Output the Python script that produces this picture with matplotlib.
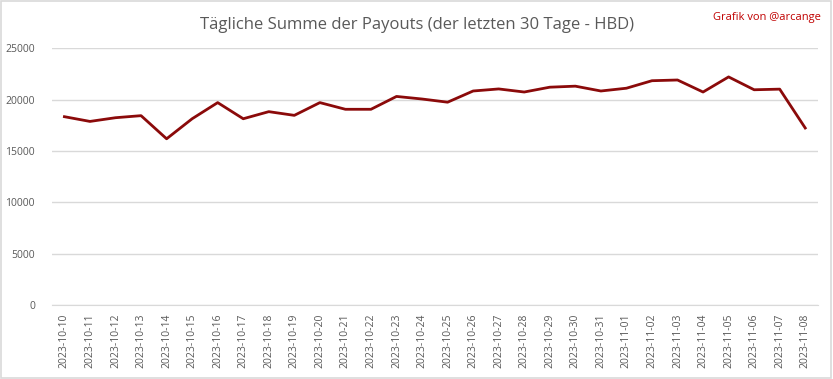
import matplotlib.pyplot as plt
from matplotlib.patches import Rectangle

# Tagesdaten
dates = ['2023-10-10', '2023-10-11', '2023-10-12', '2023-10-13', '2023-10-14',
         '2023-10-15', '2023-10-16', '2023-10-17', '2023-10-18', '2023-10-19',
         '2023-10-20', '2023-10-21', '2023-10-22', '2023-10-23', '2023-10-24',
         '2023-10-25', '2023-10-26', '2023-10-27', '2023-10-28', '2023-10-29',
         '2023-10-30', '2023-10-31', '2023-11-01', '2023-11-02', '2023-11-03',
         '2023-11-04', '2023-11-05', '2023-11-06', '2023-11-07', '2023-11-08']
payouts = [18330, 17870, 18230, 18430, 16180,
           18130, 19700, 18130, 18820, 18460,
           19700, 19050, 19050, 20300, 20050,
           19740, 20830, 21030, 20730, 21200,
           21300, 20830, 21100, 21830, 21900,
           20730, 22200, 20950, 21010, 17230]
y_ticks = [0, 5000, 10000, 15000, 20000, 25000]

plt.rcParams['font.family'] = ['Open Sans', 'DejaVu Sans']

fig = plt.figure(figsize=(8.33, 3.79), dpi=100)
ax = fig.add_axes([0.062, 0.195, 0.92, 0.678])

x = range(len(dates))
ax.plot(x, payouts, color='#8b0a0a', linewidth=2)

ax.set_xlim(-0.5, len(dates) - 0.5)
ax.set_ylim(0, 25000)
ax.set_yticks(y_ticks)
ax.set_yticklabels([str(v) for v in y_ticks])
ax.set_xticks(list(x))
ax.set_xticklabels(dates, rotation=90)
ax.tick_params(axis='both', length=0, labelsize=7.5, colors='#595959')
ax.tick_params(axis='x', pad=6)
ax.tick_params(axis='y', pad=12)
ax.grid(axis='y', color='#d9d9d9', linewidth=1)
ax.set_axisbelow(True)
for side in ['top', 'right', 'left']:
    ax.spines[side].set_visible(False)
ax.spines['bottom'].set_color('#d9d9d9')

fig.text(0.5, 0.935, 'Tägliche Summe der Payouts (der letzten 30 Tage - HBD)',
         ha='center', va='center', fontsize=12, color='#595959')
fig.text(0.985, 0.955, 'Grafik von @arcange', ha='right', va='center',
         fontsize=8, color='#c00000')

# Rahmen um die Grafik
fig.patches.append(Rectangle((0.001, 0.002), 0.997, 0.995, transform=fig.transFigure,
                             fill=False, edgecolor='#d9d9d9', linewidth=1.2))

fig.savefig('out.png', dpi=100)
